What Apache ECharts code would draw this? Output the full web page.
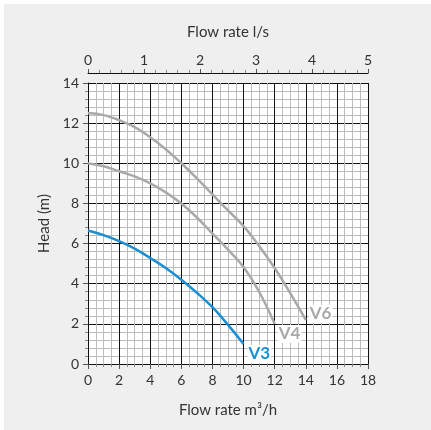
<!DOCTYPE html>
<html>
<head>
<meta charset="utf-8">
<script src="https://cdn.jsdelivr.net/npm/echarts@6/dist/echarts.min.js"></script>
<style>
  html, body { margin: 0; padding: 0; background: #fff; }
  #panel { position: absolute; left: 4px; top: 4px; right: 0; bottom: 0; background: #efefef; }
  #app { position: absolute; left: 0; top: 0; width: 431px; height: 430px; }
</style>
</head>
<body>
<div id="panel"></div>
<div id="app"></div>
<script>
(function() {
  // 流量 m³/h
  const flowM3h = [0, 1, 2, 3, 4, 5, 6, 7, 8, 9, 10, 11, 12, 13, 14];
  // 扬程 m
  const headV3 = [6.65, 6.42, 6.12, 5.75, 5.28, 4.78, 4.2, 3.55, 2.83, 1.95, 1.0];
  const headV4 = [10.0, 9.85, 9.6, 9.35, 9.0, 8.55, 8.0, 7.3, 6.5, 5.7, 4.83, 3.6, 2.0];
  const headV6 = [12.5, 12.4, 12.15, 11.8, 11.3, 10.7, 10.0, 9.25, 8.45, 7.65, 6.87, 5.88, 4.78, 3.53, 2.2];
  const seriesNames = ["V3", "V4", "V6"];

  const font = "Lato, 'Open Sans', sans-serif";
  const blue = "#1a8fd4";
  const grey = "#a9a9a9";

  function toPairs(heads) {
    return heads.map((h, i) => [flowM3h[i], h]);
  }

  function curve(name, heads, color, offset) {
    return {
      name: name,
      type: "line",
      xAxisIndex: 0,
      yAxisIndex: 0,
      data: toPairs(heads),
      smooth: 0.4,
      symbol: "none",
      lineStyle: { color: color, width: 2.5 },
      endLabel: {
        show: true,
        formatter: name,
        color: color,
        fontFamily: font,
        fontSize: 17,
        fontWeight: "bold",
        backgroundColor: "#fff",
        padding: [1, 1, 0, 1],
        offset: offset
      },
      z: 5
    };
  }

  const myChart = echarts.init(document.getElementById("app"));
  const option = {
    backgroundColor: "transparent",
    animation: false,
    textStyle: { fontFamily: font },
    grid: {
      left: 88,
      right: 63,
      top: 83,
      bottom: 66,
      show: true,
      backgroundColor: "#fff",
      borderWidth: 0
    },
    xAxis: [
      {
        type: "value",
        position: "bottom",
        min: 0,
        max: 18,
        interval: 2,
        name: "Flow rate m³/h",
        nameLocation: "middle",
        nameGap: 39,
        nameTextStyle: { fontSize: 15, color: "#333", fontFamily: font },
        axisLine: { show: true, onZero: false, lineStyle: { color: "#111", width: 1 } },
        axisTick: { show: true, length: 5, lineStyle: { color: "#555" } },
        minorTick: { show: true, splitNumber: 4, length: 3, lineStyle: { color: "#888" } },
        axisLabel: { fontSize: 14, color: "#333", margin: 9, fontFamily: font },
        splitLine: { show: true, lineStyle: { color: "#111", width: 1 } },
        minorSplitLine: { show: true, lineStyle: { color: "#bdbdbd", width: 1 } }
      },
      {
        type: "value",
        position: "top",
        min: 0,
        max: 5,
        interval: 1,
        offset: 10,
        name: "Flow rate l/s",
        nameLocation: "middle",
        nameGap: 33,
        nameTextStyle: { fontSize: 15, color: "#333", fontFamily: font },
        axisLine: { show: true, onZero: false, lineStyle: { color: "#111", width: 1 } },
        axisTick: { show: true, length: 4, lineStyle: { color: "#555" } },
        minorTick: { show: true, splitNumber: 5, length: 3, lineStyle: { color: "#888" } },
        axisLabel: { fontSize: 14, color: "#333", margin: 6, fontFamily: font },
        splitLine: { show: false }
      }
    ],
    yAxis: [
      {
        type: "value",
        min: 0,
        max: 14,
        interval: 2,
        name: "Head (m)",
        nameLocation: "middle",
        nameGap: 36,
        nameTextStyle: { fontSize: 15, color: "#333", fontFamily: font },
        axisLine: { show: true, onZero: false, lineStyle: { color: "#111", width: 1 } },
        axisTick: { show: true, length: 5, lineStyle: { color: "#555" } },
        minorTick: { show: true, splitNumber: 5, length: 3, lineStyle: { color: "#888" } },
        axisLabel: { fontSize: 14, color: "#333", margin: 9, fontFamily: font },
        splitLine: { show: true, lineStyle: { color: "#111", width: 1 } },
        minorSplitLine: { show: true, lineStyle: { color: "#bdbdbd", width: 1 } }
      }
    ],
    series: [
      curve(seriesNames[2], headV6, grey, [-5, -6]),
      curve(seriesNames[1], headV4, grey, [-5, 10]),
      curve(seriesNames[0], headV3, blue, [-4, 10])
    ]
  };
  myChart.setOption(option);
})();
</script>
</body>
</html>
